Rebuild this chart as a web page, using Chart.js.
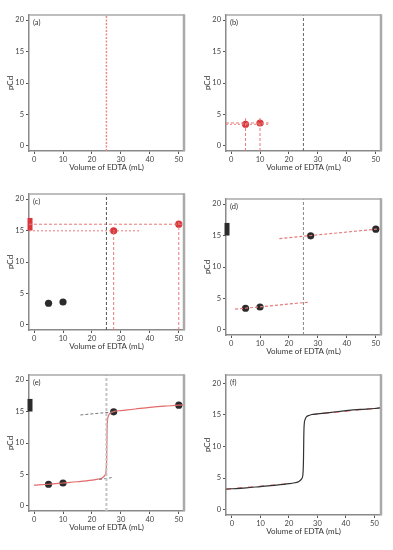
<!DOCTYPE html>
<html>
<head>
<meta charset="utf-8">
<script src="https://cdn.jsdelivr.net/npm/chart.js@4.4.1/dist/chart.umd.min.js"></script>
<style>
  html, body { margin: 0; padding: 0; background: #fff; }
  #fig { position: relative; width: 393px; height: 550px; overflow: hidden; }
  #fig canvas { position: absolute; }
</style>
</head>
<body>
<div id="fig"></div>
<script>
const xTicks = [0, 10, 20, 30, 40, 50];
const yTicks = [0, 5, 10, 15, 20];
const equivVol = 25;

// measured points (mL EDTA, pCd)
const ptVol = [5, 10, 27.5, 50];
const ptPCd = [3.45, 3.65, 14.95, 16.0];

// titration curve (e) and (f)
const curveVol = [-2, 0, 5, 10, 15, 20, 22, 23.5, 24.5, 24.9, 25.1, 25.2, 25.35, 25.7, 26.2, 27, 28, 30, 35, 40, 45, 50, 52];
const curvePCd = [3.25, 3.3, 3.45, 3.65, 3.85, 4.1, 4.25, 4.45, 4.9, 5.6, 8.0, 11.5, 13.5, 14.3, 14.7, 14.9, 15.05, 15.15, 15.4, 15.65, 15.85, 16.0, 16.1];

// sketched straight lines, panel (d)
const lowFitVol = [1.4, 26.5];
const lowFitPCd = [3.3, 4.4];
const highFitVol = [16.7, 52];
const highFitPCd = [14.5, 16.1];

// gray extension lines, panel (e)
const eLowVol = [22.5, 26.8];
const eLowPCd = [4.2, 4.5];
const eHighVol = [16, 27.5];
const eHighPCd = [14.45, 14.95];

// red dash overlay, panel (f)
const fLowVol = [-2, 21];
const fLowPCd = [3.25, 4.15];
const fHighVol = [28, 52];
const fHighPCd = [15.05, 16.1];

// guide lines in (b) and (c)
const bGuideEndVol = 13;
const bGuideTopPCd = [4.4, 4.6];
const cGuideEndVol = [37, 52];
const cGuideTopPCd = [14.95, 16.5];

// bar on the y axis marking the plateau range
const bracketPCd = [15, 17];

const RED = '#d8383b';
const RED_DASH = '#e77b7b';
const DARK = '#2b2b2b';

function pts(xs, ys) {
    return xs.map((x, i) => ({ x, y: ys[i] }));
}

function dashed(data, color, width, dash) {
    return { data, showLine: true, borderColor: color, borderWidth: width || 1,
             borderDash: dash || [3, 2], pointRadius: 0, fill: false };
}

function dots(data, color) {
    return { data, showLine: false, pointRadius: 3.6, pointHoverRadius: 3.6,
             pointBackgroundColor: color, pointBorderWidth: 0, borderColor: color };
}

function bracket(xMin, color) {
    return { data: pts([xMin + 0.35, xMin + 0.35], bracketPCd), showLine: true,
             borderColor: color, borderWidth: 5, borderCapStyle: 'butt', pointRadius: 0, clip: false };
}

function vertical(x, yMin, yMax, color, width, dash) {
    return dashed(pts([x, x], [yMin, yMax]), color, width, dash);
}

const framePlugin = {
    id: 'frame',
    afterDraw(chart, args, opts) {
        const { ctx, chartArea: a } = chart;
        ctx.save();
        ctx.strokeStyle = '#a9a9a9';
        ctx.lineWidth = 1.5;
        ctx.beginPath();
        ctx.moveTo(a.left, a.top);
        ctx.lineTo(a.right, a.top);
        ctx.stroke();
        ctx.lineWidth = 2.5;
        ctx.beginPath();
        ctx.moveTo(a.right, a.top - 0.75);
        ctx.lineTo(a.right, a.bottom);
        ctx.stroke();
        ctx.fillStyle = '#333';
        ctx.font = '7.5px Lato, "Open Sans", sans-serif';
        ctx.textBaseline = 'top';
        ctx.fillText(opts.label, a.left + 4, a.top + 4);
        ctx.restore();
    }
};

function makePanel(p) {
    const w = p.R - p.L + 29 + 6;
    const h = p.B - p.T + 15 + 22;
    const cv = document.createElement('canvas');
    cv.style.left = (p.L - 29) + 'px';
    cv.style.top = (p.T - 15) + 'px';
    cv.style.width = w + 'px';
    cv.style.height = h + 'px';
    document.getElementById('fig').appendChild(cv);

    const tickFont = { family: 'Lato, "Open Sans", sans-serif', size: 7.5 };
    new Chart(cv.getContext('2d'), {
        type: 'scatter',
        data: { datasets: p.datasets },
        options: {
            responsive: false,
            animation: false,
            devicePixelRatio: 1,
            layout: { padding: { top: 15, right: 6, left: 0, bottom: 0 } },
            plugins: {
                legend: { display: false },
                tooltip: { enabled: false },
                frame: { label: p.label }
            },
            scales: {
                x: {
                    type: 'linear', min: p.xMin, max: p.xMax,
                    afterBuildTicks: s => { s.ticks = xTicks.map(v => ({ value: v })); },
                    afterFit: s => { s.height = 22; },
                    ticks: { font: tickFont, color: '#444', padding: 1, maxRotation: 0 },
                    grid: { drawOnChartArea: false, drawTicks: true, tickLength: 3, color: '#555' },
                    border: { display: true, color: '#8a8a8a', width: 1.5 },
                    title: { display: true, text: 'Volume of EDTA (mL)', color: '#333',
                             font: { family: 'Lato, "Open Sans", sans-serif', size: 8 }, padding: { top: 0, bottom: 1 } }
                },
                y: {
                    type: 'linear', min: p.yMin, max: p.yMax,
                    afterBuildTicks: s => { s.ticks = yTicks.map(v => ({ value: v })); },
                    afterFit: s => { s.width = 29; },
                    ticks: { font: tickFont, color: '#444', padding: 2 },
                    grid: { drawOnChartArea: false, drawTicks: true, tickLength: 3, color: '#555' },
                    border: { display: true, color: '#8a8a8a', width: 1.5 },
                    title: { display: true, text: 'pCd', color: '#333',
                             font: { family: 'Lato, "Open Sans", sans-serif', size: 8 }, padding: { top: 6, bottom: 0 } }
                }
            }
        },
        plugins: [framePlugin]
    });
}

const X0 = -1.75, X1 = 51.8, Y0 = -0.8, Y1 = 20.8;
const black = pts(ptVol.slice(0, 2), ptPCd.slice(0, 2));
const allBlack = pts(ptVol, ptPCd);

makePanel({
    label: '(a)', L: 29, T: 15, R: 184, B: 151, xMin: X0, xMax: X1, yMin: Y0, yMax: Y1,
    datasets: [vertical(equivVol, Y0, Y1, '#f08a8a', 1.5, [2, 1.5])]
});

makePanel({
    label: '(b)', L: 226, T: 15, R: 381, B: 151, xMin: X0, xMax: X1, yMin: Y0, yMax: Y1,
    datasets: [
        vertical(equivVol, Y0, Y1, '#666', 1, [3, 2]),
        dashed(pts([X0, bGuideEndVol], [ptPCd[0], ptPCd[0]]), RED_DASH, 1, [2, 2]),
        dashed(pts([X0, bGuideEndVol], [ptPCd[1], ptPCd[1]]), RED_DASH, 1, [3, 2]),
        vertical(ptVol[0], Y0, bGuideTopPCd[0], RED_DASH, 1, [3, 2]),
        vertical(ptVol[1], Y0, bGuideTopPCd[1], RED_DASH, 1, [3, 2]),
        dots(black, RED)
    ]
});

makePanel({
    label: '(c)', L: 29, T: 194, R: 184, B: 330, xMin: X0, xMax: X1, yMin: Y0, yMax: Y1,
    datasets: [
        vertical(equivVol, Y0, Y1, '#555', 1, [3, 2]),
        dashed(pts([X0, cGuideEndVol[1]], [ptPCd[3], ptPCd[3]]), RED_DASH, 1, [3, 2]),
        dashed(pts([X0, cGuideEndVol[0]], [ptPCd[2], ptPCd[2]]), RED_DASH, 1, [2, 2]),
        vertical(ptVol[2], Y0, cGuideTopPCd[0], RED_DASH, 1, [3, 2]),
        vertical(ptVol[3], Y0, cGuideTopPCd[1], RED_DASH, 1, [3, 2]),
        dots(black, DARK),
        dots(pts(ptVol.slice(2), ptPCd.slice(2)), RED),
        bracket(X0, RED)
    ]
});

makePanel({
    label: '(d)', L: 226, T: 199, R: 381, B: 335, xMin: X0, xMax: X1, yMin: Y0, yMax: Y1,
    datasets: [
        vertical(equivVol, Y0, Y1, '#888', 1, [3, 2]),
        dashed(pts(lowFitVol, lowFitPCd), RED_DASH, 1.2, [3, 2]),
        dashed(pts(highFitVol, highFitPCd), RED_DASH, 1.2, [3, 2]),
        dots(allBlack, DARK),
        bracket(X0, DARK)
    ]
});

makePanel({
    label: '(e)', L: 29, T: 375, R: 184, B: 511, xMin: X0, xMax: X1, yMin: Y0, yMax: Y1,
    datasets: [
        vertical(equivVol, Y0, Y1, '#c4c4c4', 2, [3, 2]),
        dashed(pts(eLowVol, eLowPCd), '#777', 1, [3, 2]),
        dashed(pts(eHighVol, eHighPCd), '#777', 1, [3, 2]),
        { data: pts(curveVol.slice(1), curvePCd.slice(1)), showLine: true, borderColor: '#e26a6a',
          borderWidth: 1.2, pointRadius: 0, tension: 0.3, cubicInterpolationMode: 'monotone' },
        dots(allBlack, DARK),
        bracket(X0, DARK)
    ]
});

makePanel({
    label: '(f)', L: 226, T: 375, R: 381, B: 515, xMin: -2.1, xMax: 52.3, yMin: -0.85, yMax: 21.3,
    datasets: [
        { data: pts(curveVol, curvePCd), showLine: true, borderColor: '#333',
          borderWidth: 1.2, pointRadius: 0, cubicInterpolationMode: 'monotone' },
        dashed(pts(fLowVol, fLowPCd), '#e26a6a', 1.2, [5, 6]),
        dashed(pts(fHighVol, fHighPCd), '#e26a6a', 1.2, [6, 5])
    ]
});
</script>
</body>
</html>
